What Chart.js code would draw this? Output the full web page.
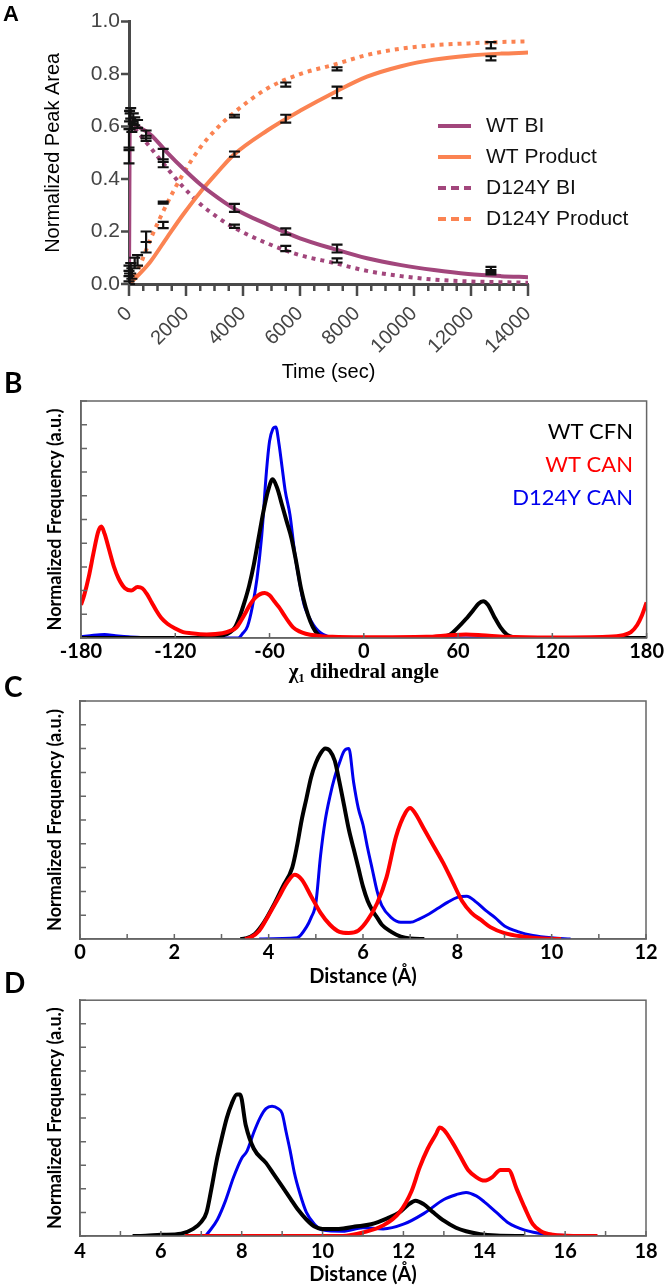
<!DOCTYPE html>
<html>
<head>
<meta charset="utf-8">
<script src="https://cdn.jsdelivr.net/npm/chart.js@4.4.0/dist/chart.umd.min.js"></script>
<style>
  body { margin: 0; background: #fff; width: 666px; height: 1285px; position: relative; overflow: hidden; }
  .panel { position: absolute; left: 0; width: 666px; }
  .tag { position: absolute; left: 4px; font-family: Lato, sans-serif; font-weight: bold; font-size: 28px; line-height: 28px; color: #000; }
</style>
</head>
<body>
<div class="panel" style="top:0;height:385px"><canvas id="chartA"></canvas></div>
<div class="panel" style="top:385px;height:300px"><canvas id="chartB"></canvas></div>
<div class="panel" style="top:685px;height:305px"><canvas id="chartC"></canvas></div>
<div class="panel" style="top:990px;height:295px"><canvas id="chartD"></canvas></div>
<div class="tag" style="top:3px;left:3px;font-family:'Liberation Sans',Arial,sans-serif;font-size:22px;line-height:22px">A</div>
<div class="tag" style="top:368px">B</div>
<div class="tag" style="top:672px">C</div>
<div class="tag" style="top:968px">D</div>
<script>
// Panel A - normalized peak area vs time
const timeWtBi = [0, 30, 150, 750, 1350, 1900, 2500, 3100, 3650, 4850, 6000, 7200, 8350, 9550, 10700, 11900, 13050, 14000];
const wtBi = [0, 0.62, 0.61, 0.57, 0.50, 0.44, 0.38, 0.33, 0.29, 0.227, 0.174, 0.133, 0.098, 0.072, 0.053, 0.038, 0.030, 0.026];
const timeWtProduct = [0, 200, 750, 1350, 1900, 2500, 3100, 3650, 4850, 6000, 7200, 8350, 9550, 10700, 11900, 13050, 14000];
const wtProduct = [0, 0.02, 0.085, 0.18, 0.265, 0.35, 0.425, 0.49, 0.585, 0.66, 0.73, 0.79, 0.83, 0.855, 0.87, 0.878, 0.882];
const timeMutBi = [0, 300, 750, 1350, 1900, 2500, 3100, 3650, 4850, 6000, 7200, 8350, 9550, 10700, 11900, 14000];
const mutBi = [0.62, 0.58, 0.52, 0.44, 0.37, 0.305, 0.255, 0.217, 0.155, 0.11, 0.08, 0.05, 0.03, 0.017, 0.01, 0.005];
const timeMutProduct = [0, 300, 750, 1350, 1900, 2500, 3100, 3650, 4850, 6000, 7200, 8350, 9550, 10700, 11900, 13000, 14000];
const mutProduct = [0, 0.05, 0.17, 0.31, 0.42, 0.52, 0.595, 0.65, 0.745, 0.80, 0.836, 0.873, 0.897, 0.91, 0.917, 0.922, 0.925];

// measured points (mean +/- sd)
const errTime = [0, 0, 0, 0, 20, 20, 40, 60, 60, 100, 100, 150, 200, 200, 300, 300, 600, 600, 600, 600,
  1200, 1200, 1200, 1200, 3700, 3700, 3700, 3700, 5500, 5500, 5500, 5500, 7300, 7300, 7300, 7300, 12700, 12700, 12700, 12700];
const errMean = [0.49, 0.55, 0.03, 0.05, 0.64, 0.02, 0.62, 0.65, 0.06, 0.60, 0.04, 0.63, 0.62, 0.08, 0.61, 0.09, 0.57, 0.555, 0.18, 0.14,
  0.49, 0.46, 0.31, 0.225, 0.64, 0.495, 0.29, 0.22, 0.76, 0.63, 0.20, 0.135, 0.82, 0.73, 0.135, 0.09, 0.91, 0.86, 0.055, 0.045];
const errSd = [0.03, 0.04, 0.02, 0.02, 0.02, 0.02, 0.03, 0.02, 0.02, 0.02, 0.02, 0.02, 0.015, 0.02, 0.015, 0.02, 0.015, 0.01, 0.02, 0.02,
  0.025, 0.015, 0.004, 0.012, 0.005, 0.01, 0.015, 0.006, 0.008, 0.015, 0.012, 0.01, 0.006, 0.022, 0.015, 0.008, 0.012, 0.008, 0.01, 0.008];

// Panel B - chi1 dihedral angle
const bAngleCfn = [-180, -110, -95, -90, -85, -82, -79, -76, -73, -70, -67, -64, -61, -58, -55, -52, -49, -46, -43, -40,
  -37, -34, -31, -28, -24, 45, 50, 55, 60, 65, 70, 73, 76, 79, 83, 87, 91, 95, 100, 180];
const bFreqCfn = [0, 0, 0.03, 0.1, 0.25, 0.45, 0.9, 1.5, 2.2, 3.1, 4.2, 5.3, 6.2, 6.7, 6.3, 5.6, 4.9, 4.2, 3.2, 2.1,
  1.3, 0.7, 0.3, 0.08, 0, 0, 0.05, 0.15, 0.45, 0.8, 1.2, 1.45, 1.55, 1.4, 0.9, 0.45, 0.15, 0.03, 0, 0];
const bAngleCan = [-180, -178, -175, -172, -169, -167, -165, -162, -159, -156, -152, -148, -144, -141, -138, -135, -132, -129, -125, -120,
  -115, -110, -100, -90, -85, -81, -78, -75, -72, -69, -66, -63, -60, -57, -54, -51, -48, -45, -41, -37,
  -30, -20, 0, 40, 55, 65, 75, 90, 120, 155, 165, 170, 174, 177, 180];
const bFreqCan = [1.4, 1.8, 2.6, 3.6, 4.5, 4.7, 4.4, 3.7, 3.0, 2.5, 2.1, 2.0, 2.15, 2.1, 1.85, 1.5, 1.15, 0.85, 0.6, 0.4,
  0.25, 0.2, 0.15, 0.2, 0.3, 0.45, 0.75, 1.1, 1.45, 1.7, 1.85, 1.9, 1.8, 1.55, 1.3, 1.0, 0.7, 0.45, 0.28, 0.18,
  0.1, 0.05, 0.03, 0.05, 0.12, 0.15, 0.12, 0.05, 0.02, 0.05, 0.12, 0.25, 0.55, 0.95, 1.5];
const bAngleMut = [-180, -172, -165, -158, -150, -140, -130, -80, -77, -74, -71, -68, -65, -62, -60, -58, -56, -54, -52, -50,
  -47, -44, -41, -38, -35, -32, -29, -26, -20, -10, 180];
const bFreqMut = [0.05, 0.12, 0.15, 0.1, 0.05, 0.02, 0, 0, 0.2, 0.5, 1.3, 2.5, 4.3, 7.0, 8.3, 8.8, 8.9, 8.2, 7.2, 6.2,
  5.2, 3.6, 2.4, 1.4, 0.9, 0.55, 0.3, 0.15, 0.03, 0, 0];

// Panel C - distance
const cDistCfn = [3.4, 3.5, 3.7, 3.9, 4.1, 4.3, 4.5, 4.6, 4.7, 4.8, 4.9, 5.0, 5.1, 5.2, 5.3, 5.4, 5.5, 5.6, 5.7, 5.8,
  5.9, 6.0, 6.1, 6.2, 6.3, 6.4, 6.6, 6.8, 7.0, 7.3];
const cFreqCfn = [0, 0.02, 0.2, 0.7, 1.4, 2.2, 3.0, 3.9, 5.0, 5.9, 6.8, 7.4, 7.8, 8.0, 7.9, 7.5, 6.6, 5.6, 4.6, 3.8,
  3.0, 2.2, 1.6, 1.2, 0.9, 0.6, 0.3, 0.1, 0.02, 0];
const cDistCan = [3.5, 3.6, 3.8, 4.0, 4.2, 4.4, 4.55, 4.7, 4.9, 5.1, 5.3, 5.5, 5.7, 5.9, 6.1, 6.3, 6.5, 6.7, 6.9, 7.0,
  7.1, 7.3, 7.5, 7.7, 7.9, 8.1, 8.3, 8.5, 8.7, 9.0, 9.4, 9.8, 10.2];
const cFreqCan = [0, 0.05, 0.35, 1.0, 1.7, 2.4, 2.7, 2.5, 1.8, 1.1, 0.6, 0.3, 0.25, 0.35, 0.8, 1.5, 2.6, 4.3, 5.3, 5.5,
  5.3, 4.6, 3.9, 3.2, 2.4, 1.6, 1.1, 0.8, 0.5, 0.25, 0.1, 0.02, 0];
const cDistMut = [3.8, 4.6, 4.8, 4.9, 5.0, 5.1, 5.2, 5.3, 5.4, 5.5, 5.6, 5.7, 5.8, 5.9, 6.0, 6.1, 6.2, 6.3, 6.4, 6.6,
  6.8, 7.0, 7.2, 7.4, 7.6, 7.8, 8.0, 8.2, 8.4, 8.6, 8.8, 9.0, 9.3, 9.6, 10.0, 10.4];
const cFreqMut = [0, 0.05, 0.5, 0.9, 1.5, 3.5, 5.0, 6.0, 6.8, 7.4, 7.9, 8.0, 6.6, 5.5, 4.8, 3.8, 2.9, 2.0, 1.4, 0.9,
  0.7, 0.7, 0.85, 1.05, 1.3, 1.55, 1.75, 1.8, 1.55, 1.2, 0.9, 0.55, 0.3, 0.15, 0.05, 0];

// Panel D - distance
const dDistCfn = [5.3, 5.5, 6.0, 6.5, 6.8, 7.0, 7.13, 7.25, 7.38, 7.5, 7.63, 7.75, 7.88, 7.96, 8.1, 8.3, 8.6, 8.8, 9.0, 9.2,
  9.4, 9.6, 9.8, 10.0, 10.4, 10.8, 11.2, 11.6, 11.9, 12.1, 12.3, 12.5, 12.74, 13.0, 13.3, 13.55, 13.9, 14.3, 15];
const dFreqCfn = [0, 0, 0.05, 0.1, 0.3, 0.6, 1.0, 2.0, 3.2, 4.1, 5.0, 5.6, 6.0, 6.0, 4.7, 3.7, 3.1, 2.6, 2.1, 1.6,
  1.1, 0.7, 0.4, 0.3, 0.3, 0.4, 0.5, 0.75, 1.0, 1.3, 1.5, 1.35, 1.0, 0.65, 0.35, 0.2, 0.08, 0.02, 0];
const dDistCan = [6.6, 10.5, 11.0, 11.5, 11.9, 12.2, 12.4, 12.6, 12.8, 12.9, 13.0, 13.2, 13.4, 13.6, 13.8, 14.0, 14.2, 14.4, 14.6, 14.8,
  15.0, 15.2, 15.4, 15.7, 16.2, 16.8];
const dFreqCan = [0, 0, 0.15, 0.45, 1.0, 1.9, 2.9, 3.7, 4.3, 4.6, 4.5, 4.0, 3.4, 2.8, 2.5, 2.35, 2.5, 2.8, 2.8, 2.0,
  1.2, 0.5, 0.2, 0.05, 0, 0];
const dDistMut = [7.1, 7.2, 7.4, 7.6, 7.8, 8.0, 8.13, 8.3, 8.45, 8.6, 8.75, 8.9, 9.0, 9.1, 9.2, 9.3, 9.44, 9.6, 9.8, 10.0,
  10.5, 11.0, 11.5, 12.0, 12.5, 13.0, 13.3, 13.55, 13.8, 14.0, 14.3, 14.6, 15.0, 15.5, 16.0, 16.4];
const dFreqMut = [0, 0.2, 0.7, 1.5, 2.5, 3.3, 3.6, 4.4, 5.0, 5.4, 5.5, 5.4, 5.2, 4.4, 3.6, 2.7, 1.8, 1.0, 0.5, 0.25,
  0.2, 0.35, 0.3, 0.5, 0.95, 1.55, 1.75, 1.85, 1.7, 1.45, 1.0, 0.55, 0.25, 0.08, 0.02, 0];

Chart.defaults.animation = false;
Chart.defaults.font.family = "Lato, 'Liberation Sans', sans-serif";
Chart.defaults.color = '#000';

const ARIAL = "'Liberation Sans', Arial, sans-serif";
const PURPLE = '#a2467c';
const ORANGE = '#fb8352';
const pts = (xs, ys) => xs.map((x, i) => ({ x: x, y: ys[i] }));

// tick marks (and optional frame) drawn from the scales' own ticks
const axisTicks = {
  id: 'axisTicks',
  afterDraw(chart, args, o) {
    const ctx = chart.ctx, a = chart.chartArea;
    const sx = chart.scales.x, sy = chart.scales.y;
    const dir = o.inside ? -1 : 1;
    ctx.save();
    ctx.strokeStyle = o.color;
    ctx.lineWidth = o.width;
    if (o.box) ctx.strokeRect(a.left, a.top, a.right - a.left, a.bottom - a.top);
    ctx.beginPath();
    sx.ticks.forEach(t => {
      const px = sx.getPixelForValue(t.value);
      const len = t.label === '' ? o.xMinor : o.xMajor;
      ctx.moveTo(px, a.bottom);
      ctx.lineTo(px, a.bottom + dir * len);
    });
    sy.ticks.forEach(t => {
      const py = sy.getPixelForValue(t.value);
      const len = t.label === '' ? o.yMinor : o.yMajor;
      ctx.moveTo(a.left, py);
      ctx.lineTo(a.left - dir * len, py);
    });
    ctx.stroke();
    ctx.restore();
  }
};

const errorBars = {
  id: 'errorBars',
  afterDatasetsDraw(chart) {
    const ctx = chart.ctx, sx = chart.scales.x, sy = chart.scales.y;
    ctx.save();
    ctx.strokeStyle = '#111';
    ctx.lineWidth = 2.2;
    ctx.beginPath();
    errTime.forEach((t, i) => {
      const px = sx.getPixelForValue(t);
      const lo = sy.getPixelForValue(errMean[i] - errSd[i]);
      const hi = sy.getPixelForValue(errMean[i] + errSd[i]);
      ctx.moveTo(px, lo); ctx.lineTo(px, hi);
      ctx.moveTo(px - 5.5, lo); ctx.lineTo(px + 5.5, lo);
      ctx.moveTo(px - 5.5, hi); ctx.lineTo(px + 5.5, hi);
    });
    ctx.stroke();
    ctx.restore();
  }
};

const lineLegend = {
  id: 'lineLegend',
  afterDraw(chart, args, o) {
    const ctx = chart.ctx;
    ctx.save();
    chart.data.datasets.forEach((ds, i) => {
      const y = o.y + i * o.gap;
      ctx.strokeStyle = ds.borderColor;
      ctx.lineWidth = ds.borderWidth;
      ctx.setLineDash(ds.borderDash ? o.dash : []);
      ctx.beginPath();
      ctx.moveTo(o.x, y);
      ctx.lineTo(o.x + o.len, y);
      ctx.stroke();
      ctx.fillStyle = '#111';
      ctx.font = o.font;
      ctx.textBaseline = 'middle';
      ctx.fillText(ds.label, o.x + o.len + o.textGap, y);
    });
    ctx.restore();
  }
};

const textLegend = {
  id: 'textLegend',
  afterDraw(chart, args, o) {
    if (!o.show) return;
    const ctx = chart.ctx;
    ctx.save();
    ctx.font = o.font;
    ctx.textAlign = 'right';
    ctx.textBaseline = 'middle';
    chart.data.datasets.forEach((ds, i) => {
      ctx.fillStyle = ds.borderColor;
      ctx.fillText(ds.label, o.x, o.y + i * o.gap);
    });
    ctx.restore();
  }
};

// Panel A
new Chart(document.getElementById('chartA'), {
  type: 'line',
  data: {
    datasets: [
      { label: 'WT BI', data: pts(timeWtBi, wtBi), borderColor: PURPLE, borderWidth: 4 },
      { label: 'WT Product', data: pts(timeWtProduct, wtProduct), borderColor: ORANGE, borderWidth: 4 },
      { label: 'D124Y BI', data: pts(timeMutBi, mutBi), borderColor: PURPLE, borderWidth: 4, borderDash: [4, 5] },
      { label: 'D124Y Product', data: pts(timeMutProduct, mutProduct), borderColor: ORANGE, borderWidth: 4, borderDash: [4, 5] }
    ]
  },
  options: {
    responsive: true,
    maintainAspectRatio: false,
    layout: { padding: { top: 20, right: 138, left: 0, bottom: 0 } },
    elements: { point: { radius: 0 }, line: { cubicInterpolationMode: 'monotone' } },
    scales: {
      x: {
        type: 'linear', min: 0, max: 14000,
        grid: { display: false, drawTicks: false },
        border: { display: true, color: '#4a4a4a', width: 3 },
        ticks: {
          stepSize: 500, autoSkip: false, maxTicksLimit: 100, minRotation: 45, maxRotation: 45, padding: 18,
          font: { family: ARIAL, size: 20 }, color: '#444',
          callback: v => (v % 2000 === 0 ? v : '')
        },
        title: { display: true, text: 'Time (sec)', color: '#000', font: { family: ARIAL, size: 20, lineHeight: 1 }, padding: { top: 0, bottom: 3 } },
        afterFit: s => { s.height = 101; }
      },
      y: {
        min: 0, max: 1,
        grid: { display: false, drawTicks: false },
        border: { display: true, color: '#4a4a4a', width: 3 },
        ticks: {
          stepSize: 0.1, padding: 9,
          font: { family: ARIAL, size: 21 }, color: '#444',
          callback: v => (Math.round(v * 10) % 2 === 0 ? v.toFixed(1) : '')
        },
        title: { display: true, text: 'Normalized Peak Area', color: '#000', font: { family: ARIAL, size: 20, lineHeight: 1 }, padding: { top: 43, bottom: 0 } },
        afterFit: s => { s.width = 129; }
      }
    },
    plugins: {
      legend: { display: false },
      tooltip: { enabled: false },
      axisTicks: { color: '#4a4a4a', width: 2.5, inside: false, box: false, xMajor: 12, xMinor: 7, yMajor: 8, yMinor: 5 },
      lineLegend: { x: 438, y: 126, gap: 31, len: 33, textGap: 15, dash: [8, 5], font: "21px 'Liberation Sans', Arial, sans-serif" }
    }
  },
  plugins: [axisTicks, errorBars, lineLegend]
});

// Panels B, C, D share one layout
function distChart(id, cfg) {
  return new Chart(document.getElementById(id), {
    type: 'line',
    data: {
      datasets: [
        { label: cfg.names[0], data: cfg.black, borderColor: '#000000', borderWidth: 4, order: 2 },
        { label: cfg.names[1], data: cfg.red, borderColor: '#ff0000', borderWidth: 4, order: 1 },
        { label: cfg.names[2], data: cfg.blue, borderColor: '#0000ee', borderWidth: 3, order: 3 }
      ]
    },
    options: {
      responsive: true,
      maintainAspectRatio: false,
      layout: { padding: { top: cfg.top, right: cfg.right, left: 0, bottom: 0 } },
      elements: { point: { radius: 0 }, line: { cubicInterpolationMode: 'monotone' } },
      scales: {
        x: {
          type: 'linear', min: cfg.xMin, max: cfg.xMax,
          grid: { display: false, drawTicks: false },
          border: { display: true, color: '#666', width: 1.5 },
          ticks: {
            stepSize: cfg.xStep, autoSkip: false, maxRotation: 0, padding: cfg.labelPad,
            font: { size: 20, weight: 'bold' }, color: '#000',
            callback: v => ((v - cfg.xMin) % cfg.labelEvery === 0 ? v : '')
          },
          title: { display: true, text: cfg.xTitle, color: '#000', font: cfg.titleFont, padding: { top: 0, bottom: cfg.titlePad } },
          afterFit: s => { s.height = cfg.xHeight; }
        },
        y: {
          min: 0, max: 10,
          grid: { display: false, drawTicks: false },
          border: { display: true, color: '#666', width: 1.5 },
          ticks: { stepSize: 1, callback: () => '' },
          title: {
            display: true, text: 'Normalized Frequency (a.u.)', color: '#000',
            font: { size: 18, weight: 'bold', lineHeight: 1 }, padding: { top: 46, bottom: 0 }
          },
          afterFit: s => { s.width = cfg.yWidth; }
        }
      },
      plugins: {
        legend: { display: false },
        tooltip: { enabled: false },
        axisTicks: { color: '#666', width: 1.5, inside: true, box: true, xMajor: 5, xMinor: 5, yMajor: 6, yMinor: 6 },
        textLegend: { show: cfg.legend, x: 633, y: 47, gap: 33, font: '22px Lato, sans-serif' }
      }
    },
    plugins: [axisTicks, textLegend]
  });
}

distChart('chartB', {
  names: ['WT CFN', 'WT CAN', 'D124Y CAN'],
  black: pts(bAngleCfn, bFreqCfn), red: pts(bAngleCan, bFreqCan), blue: pts(bAngleMut, bFreqMut),
  xMin: -180, xMax: 180, xStep: 60, labelEvery: 60,
  top: 16, right: 18, yWidth: 81, xHeight: 47, labelPad: 2,
  xTitle: 'χ₁ dihedral angle', titleFont: { family: "'Liberation Serif', 'Times New Roman', serif", size: 21, weight: 'bold', lineHeight: 1 }, titlePad: 2,
  legend: true
});

distChart('chartC', {
  names: ['WT CFN', 'WT CAN', 'D124Y CAN'],
  black: pts(cDistCfn, cFreqCfn), red: pts(cDistCan, cFreqCan), blue: pts(cDistMut, cFreqMut),
  xMin: 0, xMax: 12, xStep: 1, labelEvery: 2,
  top: 16, right: 20, yWidth: 80, xHeight: 51, labelPad: 2,
  xTitle: 'Distance (Å)', titleFont: { size: 20, weight: 'bold', lineHeight: 1 }, titlePad: 3,
  legend: false
});

distChart('chartD', {
  names: ['WT CFN', 'WT CAN', 'D124Y CAN'],
  black: pts(dDistCfn, dFreqCfn), red: pts(dDistCan, dFreqCan), blue: pts(dDistMut, dFreqMut),
  xMin: 4, xMax: 18, xStep: 1, labelEvery: 2,
  top: 8, right: 20, yWidth: 80, xHeight: 49, labelPad: 4,
  xTitle: 'Distance (Å)', titleFont: { size: 20, weight: 'bold', lineHeight: 1 }, titlePad: 0,
  legend: false
});
</script>
</body>
</html>
